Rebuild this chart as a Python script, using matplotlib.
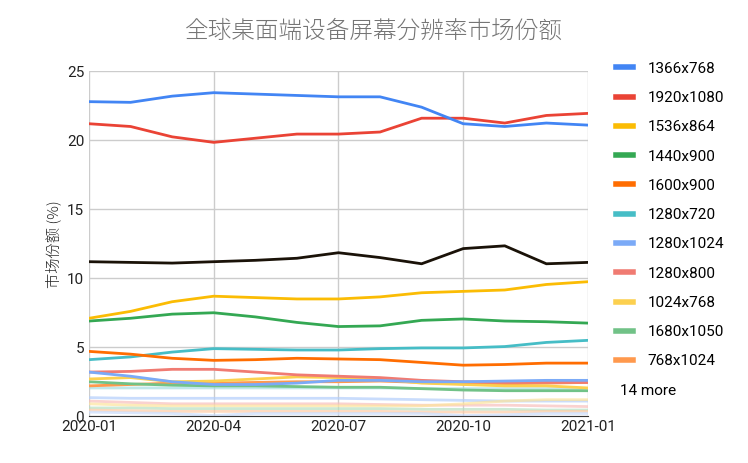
import matplotlib
matplotlib.use("Agg")
import matplotlib.pyplot as plt
from matplotlib import font_manager as fm
from matplotlib.lines import Line2D
import numpy as np

cjk = None
for f in fm.findSystemFonts():
    if "CJK" in f and ("SC" in f or "Sans" in f):
        cjk = f
        break
cjk_prop = fm.FontProperties(fname=cjk) if cjk else fm.FontProperties(family="Noto Sans CJK SC")
plt.rcParams["font.family"] = ["Roboto"]

months = ["2020-01","2020-02","2020-03","2020-04","2020-05","2020-06","2020-07",
          "2020-08","2020-09","2020-10","2020-11","2020-12","2021-01"]
tick_labels = ["2020-01","2020-04","2020-07","2020-10","2021-01"]

names = ["1366x768","1920x1080","1536x864","1440x900","1600x900","1280x720",
         "1280x1024","1280x800","1024x768","1680x1050","768x1024"]
colors = ["#4285f4","#ea4335","#fbbc04","#34a853","#ff6d01","#46bdc6",
          "#7baaf7","#f07b72","#fcd04f","#71c287","#ff994d"]
s1366 = [22.8,22.75,23.2,23.45,23.35,23.25,23.15,23.15,22.4,21.2,21.0,21.25,21.1]
s1920 = [21.2,21.0,20.25,19.85,20.15,20.45,20.45,20.6,21.6,21.6,21.25,21.8,21.95]
s1536 = [7.1,7.6,8.3,8.7,8.6,8.5,8.5,8.65,8.95,9.05,9.15,9.55,9.75]
s1440 = [6.9,7.1,7.4,7.5,7.2,6.8,6.5,6.55,6.95,7.05,6.9,6.85,6.75]
s1600 = [4.7,4.5,4.2,4.05,4.1,4.2,4.15,4.1,3.9,3.7,3.75,3.85,3.85]
s1280x720 = [4.1,4.3,4.65,4.9,4.85,4.8,4.8,4.9,4.95,4.95,5.05,5.35,5.5]
s1280x1024 = [3.2,2.9,2.5,2.3,2.3,2.4,2.6,2.6,2.5,2.5,2.55,2.6,2.6]
s1280x800 = [3.2,3.25,3.4,3.4,3.2,3.0,2.9,2.8,2.6,2.5,2.45,2.45,2.45]
s1024 = [2.7,2.8,2.5,2.55,2.7,2.85,2.8,2.7,2.4,2.3,2.2,2.2,2.05]
s1680 = [2.5,2.35,2.25,2.2,2.2,2.15,2.1,2.1,2.0,1.9,1.85,1.85,1.85]
s768 = [2.2,2.3,2.4,2.4,2.45,2.5,2.5,2.55,2.45,2.35,2.35,2.4,2.45]
series = [s1366,s1920,s1536,s1440,s1600,s1280x720,s1280x1024,s1280x800,s1024,s1680,s768]

other = [11.2,11.15,11.1,11.2,11.3,11.45,11.85,11.5,11.05,12.15,12.35,11.05,11.15]
faint_colors = ["#a6dee2","#b3cefb","#f8c0bc","#fde49d","#b8e0c3","#ffcca6","#c9dcfc"]
faint = [
    [2.05,2.05,2.05,2.05,2.05,2.05,2.05,2.05,2.0,2.0,2.0,2.0,2.0],
    [1.35,1.3,1.3,1.3,1.3,1.3,1.3,1.25,1.2,1.15,1.1,1.1,1.1],
    [1.1,1.0,0.9,0.9,0.9,0.9,0.9,0.85,0.8,0.8,0.8,0.75,0.7],
    [0.9,0.8,0.75,0.75,0.75,0.75,0.75,0.75,0.75,0.9,1.1,1.2,1.2],
    [0.6,0.6,0.55,0.55,0.55,0.55,0.55,0.55,0.5,0.5,0.5,0.45,0.45],
    [0.45,0.4,0.35,0.35,0.35,0.35,0.35,0.35,0.3,0.3,0.3,0.35,0.35],
    [0.3,0.25,0.2,0.05,0.2,0.2,0.2,0.2,0.2,0.05,0.1,0.2,0.2],
]

fig = plt.figure(figsize=(7.48,4.63), dpi=100)
ax = fig.add_axes([0.119, 0.101, 0.667, 0.745])
x = np.arange(len(months))
for c, s in zip(faint_colors, faint):
    ax.plot(x, s, color=c, lw=2, alpha=0.7)
ax.plot(x, other, color="#1a1208", lw=2)
for n, c, s in reversed(list(zip(names, colors, series))):
    ax.plot(x, s, color=c, lw=2, label=n)

ax.set_xlim(0, 12)
ax.set_ylim(0, 25)
ax.set_yticks([0,5,10,15,20,25])
ax.set_xticks([0,3,6,9,12])
ax.set_xticklabels(tick_labels)
ax.grid(True, color="#cccccc", lw=1)
ax.set_axisbelow(True)
for sp in ["top","right","left"]:
    ax.spines[sp].set_visible(False)
ax.spines["bottom"].set_color("#333333")
ax.tick_params(length=0, labelsize=11, colors="#222222")
ax.tick_params(axis="x", pad=3)
ax.set_ylabel("市场份额 (%)", fontsize=11, color="#222222", fontproperties=cjk_prop)
ax.yaxis.label.set_size(11)
t = fig.suptitle("全球桌面端设备屏幕分辨率市场份额", x=0.5, y=0.96, color="#757575",
                 fontproperties=cjk_prop)
t.set_size(17)

h, l = ax.get_legend_handles_labels()
h, l = h[::-1], l[::-1]
h.append(Line2D([], [], color="none")); l.append("14 more")
leg = fig.legend(h, l, loc="upper left", bbox_to_anchor=(0.815, 0.88), frameon=False,
                 fontsize=11, handlelength=1.1, handletextpad=1.0, labelspacing=1.0,
                 borderaxespad=0)
for hd in leg.legend_handles:
    hd.set_linewidth(4)
leg.get_texts()[-1].set_position((-28, 0))
fig.savefig("out.png", dpi=100)
